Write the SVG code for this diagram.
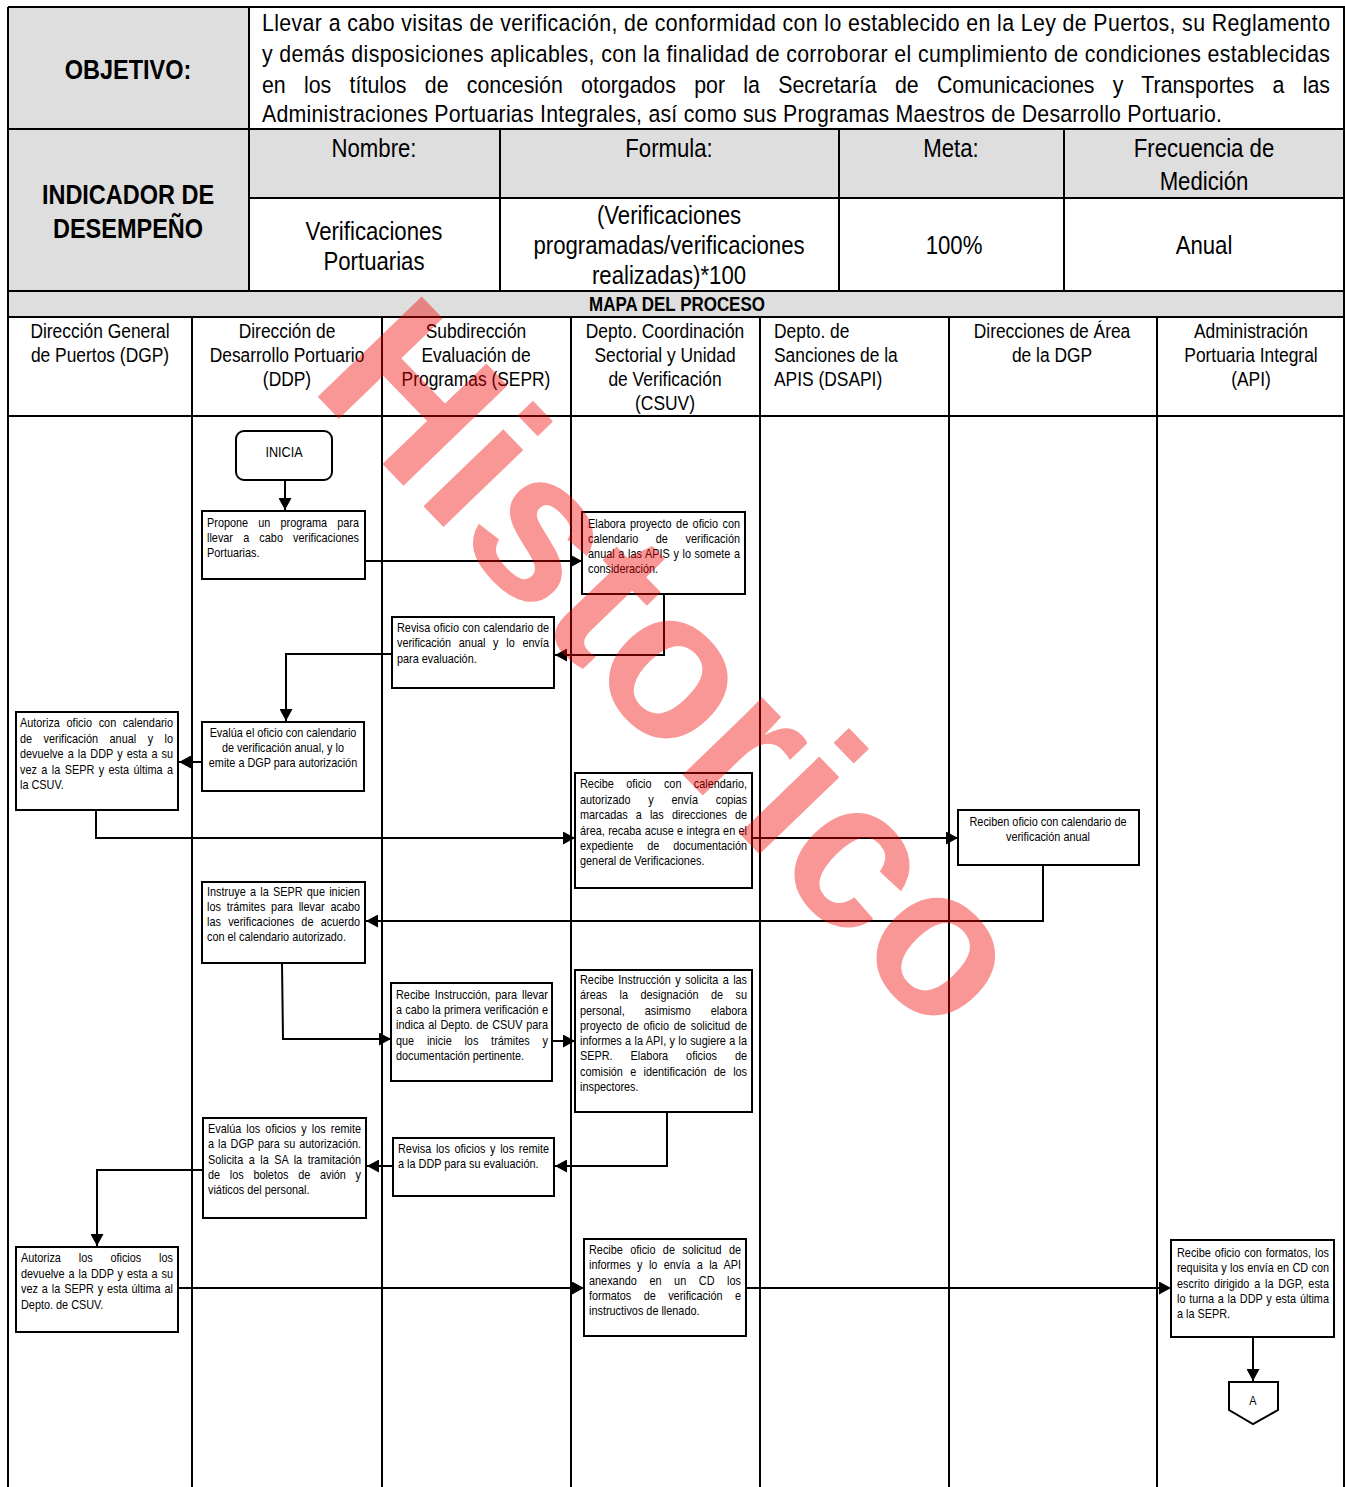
<svg xmlns="http://www.w3.org/2000/svg" width="1345" height="1487" viewBox="0 0 1345 1487">
<style>
.ln{stroke:#000;stroke-width:2;fill:none}
.gray{fill:#dedede}
.box{fill:#fff;stroke:#000;stroke-width:2}
.f{font-family:"Liberation Sans",Arial,sans-serif;fill:#000}
.t{font-family:"Liberation Sans",Arial,sans-serif;font-size:12.5px;fill:#000}
.tc{font-family:"Liberation Sans",Arial,sans-serif;font-size:12.5px;fill:#000;text-anchor:middle}
.h{font-family:"Liberation Sans",Arial,sans-serif;font-size:20px;fill:#000;text-anchor:middle}
.hl{font-family:"Liberation Sans",Arial,sans-serif;font-size:20px;fill:#000}
.v{font-family:"Liberation Sans",Arial,sans-serif;font-size:25.5px;fill:#000;text-anchor:middle}
.b{font-family:"Liberation Sans",Arial,sans-serif;font-size:27px;font-weight:bold;fill:#000;text-anchor:middle}
.o{font-family:"Liberation Sans",Arial,sans-serif;font-size:24.5px;fill:#000}
.c{stroke:#000;stroke-width:2;fill:none;marker-end:url(#ah)}
</style>
<defs>
<marker id="ah" markerUnits="userSpaceOnUse" markerWidth="13" markerHeight="13" refX="12" refY="6.5" orient="auto">
<path d="M0,0 L12,6.5 L0,13 z" fill="#000"/>
</marker>
</defs>
<rect width="1345" height="1487" fill="#fff"/>

<g id="header">
<rect class="gray" x="8" y="7" width="241" height="122"/>
<rect class="gray" x="8" y="129" width="241" height="162"/>
<rect class="gray" x="249" y="129" width="1095" height="69"/>
<rect class="gray" x="8" y="291" width="1336" height="26"/>
<path class="ln" d="M8,7 H1344 V1487 M8,7 V1487 M8,129 H1344 M249,198 H1344 M8,291 H1344 M8,317 H1344 M8,416 H1344 M249,7 V291 M500,129 V291 M839,129 V291 M1064,129 V291"/>
<text class="b" transform="translate(128,79) scale(.87,1)">OBJETIVO:</text>
<text class="o" transform="translate(262,31) scale(.87,1)" textLength="1227.6" lengthAdjust="spacing">Llevar a cabo visitas de verificación, de conformidad con lo establecido en la Ley de Puertos, su Reglamento</text>
<text class="o" transform="translate(262,62) scale(.87,1)" textLength="1227.6" lengthAdjust="spacing">y demás disposiciones aplicables, con la finalidad de corroborar el cumplimiento de condiciones establecidas</text>
<text class="o" transform="translate(262,93) scale(.87,1)" textLength="1227.6" lengthAdjust="spacing" word-spacing="14.3">en los títulos de concesión otorgados por la Secretaría de Comunicaciones y Transportes a las</text>
<text class="o" transform="translate(262,122) scale(.87,1)" textLength="1103.4" lengthAdjust="spacing">Administraciones Portuarias Integrales, así como sus Programas Maestros de Desarrollo Portuario.</text>
<text class="b" transform="translate(128,204) scale(.87,1)">INDICADOR DE</text>
<text class="b" transform="translate(128,238) scale(.87,1)">DESEMPEÑO</text>
<text class="v" transform="translate(374,157) scale(.87,1)">Nombre:</text>
<text class="v" transform="translate(669,157) scale(.87,1)">Formula:</text>
<text class="v" transform="translate(951,157) scale(.87,1)">Meta:</text>
<text class="v" transform="translate(1204,157) scale(.87,1)">Frecuencia de</text>
<text class="v" transform="translate(1204,190) scale(.87,1)">Medición</text>
<text class="v" transform="translate(374,240) scale(.87,1)">Verificaciones</text>
<text class="v" transform="translate(374,270) scale(.87,1)">Portuarias</text>
<text class="v" transform="translate(669,224) scale(.87,1)">(Verificaciones</text>
<text class="v" transform="translate(669,254) scale(.87,1)">programadas/verificaciones</text>
<text class="v" transform="translate(669,284) scale(.87,1)">realizadas)*100</text>
<text class="v" transform="translate(954,254) scale(.87,1)">100%</text>
<text class="v" transform="translate(1204,254) scale(.87,1)">Anual</text>
<text class="f" font-size="19.5" font-weight="bold" text-anchor="middle" transform="translate(677,311) scale(.87,1)">MAPA DEL PROCESO</text>
</g>

<g id="lanes">
<path class="ln" d="M192,317 V1487 M382,317 V1487 M571,317 V1487 M760,317 V1487 M949,317 V1487 M1157,317 V1487"/>
<text class="h" transform="translate(100,338) scale(.87,1)">Dirección General</text>
<text class="h" transform="translate(100,362) scale(.87,1)">de Puertos (DGP)</text>
<text class="h" transform="translate(287,338) scale(.87,1)">Dirección de</text>
<text class="h" transform="translate(287,362) scale(.87,1)">Desarrollo Portuario</text>
<text class="h" transform="translate(287,386) scale(.87,1)">(DDP)</text>
<text class="h" transform="translate(476,338) scale(.87,1)">Subdirección</text>
<text class="h" transform="translate(476,362) scale(.87,1)">Evaluación de</text>
<text class="h" transform="translate(476,386) scale(.87,1)">Programas (SEPR)</text>
<text class="h" transform="translate(665,338) scale(.87,1)">Depto. Coordinación</text>
<text class="h" transform="translate(665,362) scale(.87,1)">Sectorial y Unidad</text>
<text class="h" transform="translate(665,386) scale(.87,1)">de Verificación</text>
<text class="h" transform="translate(665,410) scale(.87,1)">(CSUV)</text>
<text class="hl" transform="translate(774,338) scale(.87,1)">Depto. de</text>
<text class="hl" transform="translate(774,362) scale(.87,1)">Sanciones de la</text>
<text class="hl" transform="translate(774,386) scale(.87,1)">APIS (DSAPI)</text>
<text class="h" transform="translate(1052,338) scale(.87,1)">Direcciones de Área</text>
<text class="h" transform="translate(1052,362) scale(.87,1)">de la DGP</text>
<text class="h" transform="translate(1251,338) scale(.87,1)">Administración</text>
<text class="h" transform="translate(1251,362) scale(.87,1)">Portuaria Integral</text>
<text class="h" transform="translate(1251,386) scale(.87,1)">(API)</text>
</g>

<g id="connectors">
<path class="c" d="M285,480 V510"/>
<path class="c" d="M365,561 H582"/>
<path class="c" d="M664,594 V655 H555"/>
<path class="c" d="M392,654 H286 V721"/>
<path class="c" d="M202,762 H179"/>
<path class="c" d="M96,810 V838 H575"/>
<path class="c" d="M752,838 H958"/>
<path class="c" d="M1043,865 V921 H366"/>
<path class="c" d="M282,963 L283,1039 H391"/>
<path class="c" d="M552,1041 H575"/>
<path class="c" d="M667,1112 V1166 H555"/>
<path class="c" d="M393,1166 H367"/>
<path class="c" d="M203,1170 H97 V1246"/>
<path class="c" d="M178,1288 H584"/>
<path class="c" d="M746,1288 H1171"/>
<path class="c" d="M1253,1337 V1381"/>
</g>

<g id="inicia">
<rect class="box" x="236" y="431" width="96" height="49" rx="8"/>
<text class="f" font-size="14.5" text-anchor="middle" transform="translate(284,457) scale(.87,1)">INICIA</text>
</g>

<g id="ddp-propone">
<rect class="box" x="202" y="511" width="163" height="68"/>
<text class="t" transform="translate(207,527) scale(.87,1)" textLength="174.7" lengthAdjust="spacing" word-spacing="8.2">Propone un programa para</text>
<text class="t" transform="translate(207,542) scale(.87,1)" textLength="174.7" lengthAdjust="spacing" word-spacing="8.2">llevar a cabo verificaciones</text>
<text class="t" transform="translate(207,557) scale(.87,1)">Portuarias.</text>
</g>

<g id="csuv-elabora">
<rect class="box" x="582" y="512" width="163" height="82"/>
<text class="t" transform="translate(588,528) scale(.87,1)" textLength="174.7" lengthAdjust="spacing" word-spacing="1.6">Elabora proyecto de oficio con</text>
<text class="t" transform="translate(588,543) scale(.87,1)" textLength="174.7" lengthAdjust="spacing" word-spacing="16.8">calendario de verificación</text>
<text class="t" transform="translate(588,558) scale(.87,1)" textLength="174.7" lengthAdjust="spacing" word-spacing="0.6">anual a las APIS y lo somete a</text>
<text class="t" transform="translate(588,573) scale(.87,1)">consideración.</text>
</g>

<g id="sepr-revisa">
<rect class="box" x="392" y="617" width="162" height="71"/>
<text class="t" transform="translate(397,632) scale(.87,1)" textLength="174.7" lengthAdjust="spacing" word-spacing="0.4">Revisa oficio con calendario de</text>
<text class="t" transform="translate(397,647) scale(.87,1)" textLength="174.7" lengthAdjust="spacing" word-spacing="5.5">verificación anual y lo envía</text>
<text class="t" transform="translate(397,663) scale(.87,1)">para evaluación.</text>
</g>

<g id="ddp-evalua">
<rect class="box" x="202" y="722" width="162" height="69"/>
<text class="tc" transform="translate(283,737) scale(.87,1)">Evalúa el oficio con calendario</text>
<text class="tc" transform="translate(283,752) scale(.87,1)">de verificación anual, y lo</text>
<text class="tc" transform="translate(283,767) scale(.87,1)">emite a DGP para autorización</text>
</g>

<g id="dgp-autoriza">
<rect class="box" x="16" y="712" width="162" height="98"/>
<text class="t" transform="translate(20,727) scale(.87,1)" textLength="175.9" lengthAdjust="spacing" word-spacing="4.2">Autoriza oficio con calendario</text>
<text class="t" transform="translate(20,743) scale(.87,1)" textLength="175.9" lengthAdjust="spacing" word-spacing="9.7">de verificación anual y lo</text>
<text class="t" transform="translate(20,758) scale(.87,1)" textLength="175.9" lengthAdjust="spacing" word-spacing="1.2">devuelve a la DDP y esta a su</text>
<text class="t" transform="translate(20,774) scale(.87,1)" textLength="175.9" lengthAdjust="spacing" word-spacing="1.6">vez a la SEPR y esta última a</text>
<text class="t" transform="translate(20,789) scale(.87,1)">la CSUV.</text>
</g>

<g id="csuv-recibe">
<rect class="box" x="575" y="773" width="177" height="115"/>
<text class="t" transform="translate(580,788) scale(.87,1)" textLength="192" lengthAdjust="spacing" word-spacing="10.7">Recibe oficio con calendario,</text>
<text class="t" transform="translate(580,804) scale(.87,1)" textLength="192" lengthAdjust="spacing" word-spacing="17">autorizado y envía copias</text>
<text class="t" transform="translate(580,819) scale(.87,1)" textLength="192" lengthAdjust="spacing" word-spacing="5.8">marcadas a las direcciones de</text>
<text class="t" transform="translate(580,835) scale(.87,1)" textLength="192" lengthAdjust="spacing" word-spacing="0.4">área, recaba acuse e integra en el</text>
<text class="t" transform="translate(580,850) scale(.87,1)" textLength="192" lengthAdjust="spacing" word-spacing="12.6">expediente de documentación</text>
<text class="t" transform="translate(580,865) scale(.87,1)">general de Verificaciones.</text>
</g>

<g id="da-reciben">
<rect class="box" x="958" y="810" width="181" height="55"/>
<text class="tc" transform="translate(1048,826) scale(.87,1)">Reciben oficio con calendario de</text>
<text class="tc" transform="translate(1048,841) scale(.87,1)">verificación anual</text>
</g>

<g id="ddp-instruye">
<rect class="box" x="202" y="882" width="163" height="81"/>
<text class="t" transform="translate(207,896) scale(.87,1)" textLength="175.9" lengthAdjust="spacing" word-spacing="1.4">Instruye a la SEPR que inicien</text>
<text class="t" transform="translate(207,911) scale(.87,1)" textLength="175.9" lengthAdjust="spacing" word-spacing="3.2">los trámites para llevar acabo</text>
<text class="t" transform="translate(207,926) scale(.87,1)" textLength="175.9" lengthAdjust="spacing" word-spacing="4.9">las verificaciones de acuerdo</text>
<text class="t" transform="translate(207,941) scale(.87,1)">con el calendario autorizado.</text>
</g>

<g id="sepr-recibe">
<rect class="box" x="391" y="983" width="161" height="98"/>
<text class="t" transform="translate(396,999) scale(.87,1)" textLength="174.7" lengthAdjust="spacing" word-spacing="2.2">Recibe Instrucción, para llevar</text>
<text class="t" transform="translate(396,1014) scale(.87,1)" textLength="174.7" lengthAdjust="spacing" word-spacing="0.3">a cabo la primera verificación e</text>
<text class="t" transform="translate(396,1029) scale(.87,1)" textLength="174.7" lengthAdjust="spacing" word-spacing="0.9">indica al Depto. de CSUV para</text>
<text class="t" transform="translate(396,1045) scale(.87,1)" textLength="174.7" lengthAdjust="spacing" word-spacing="11.2">que inicie los trámites y</text>
<text class="t" transform="translate(396,1060) scale(.87,1)">documentación pertinente.</text>
</g>

<g id="csuv-solicita">
<rect class="box" x="575" y="970" width="177" height="142"/>
<text class="t" transform="translate(580,984) scale(.87,1)" textLength="192" lengthAdjust="spacing" word-spacing="1.6">Recibe Instrucción y solicita a las</text>
<text class="t" transform="translate(580,999) scale(.87,1)" textLength="192" lengthAdjust="spacing" word-spacing="10.8">áreas la designación de su</text>
<text class="t" transform="translate(580,1015) scale(.87,1)" textLength="192" lengthAdjust="spacing" word-spacing="19.6">personal, asimismo elabora</text>
<text class="t" transform="translate(580,1030) scale(.87,1)" textLength="192" lengthAdjust="spacing" word-spacing="2.1">proyecto de oficio de solicitud de</text>
<text class="t" transform="translate(580,1045) scale(.87,1)" textLength="192" lengthAdjust="spacing" word-spacing="0.3">informes a la API, y lo sugiere a la</text>
<text class="t" transform="translate(580,1060) scale(.87,1)" textLength="192" lengthAdjust="spacing" word-spacing="17.2">SEPR. Elabora oficios de</text>
<text class="t" transform="translate(580,1076) scale(.87,1)" textLength="192" lengthAdjust="spacing" word-spacing="4.9">comisión e identificación de los</text>
<text class="t" transform="translate(580,1091) scale(.87,1)">inspectores.</text>
</g>

<g id="sepr-revisa-oficios">
<rect class="box" x="393" y="1138" width="161" height="58"/>
<text class="t" transform="translate(398,1153) scale(.87,1)" textLength="173.6" lengthAdjust="spacing" word-spacing="1.9">Revisa los oficios y los remite</text>
<text class="t" transform="translate(398,1168) scale(.87,1)">a la DDP para su evaluación.</text>
</g>

<g id="ddp-evalua-oficios">
<rect class="box" x="203" y="1118" width="163" height="100"/>
<text class="t" transform="translate(208,1133) scale(.87,1)" textLength="175.9" lengthAdjust="spacing" word-spacing="2.4">Evalúa los oficios y los remite</text>
<text class="t" transform="translate(208,1148) scale(.87,1)" textLength="175.9" lengthAdjust="spacing" word-spacing="1.1">a la DGP para su autorización.</text>
<text class="t" transform="translate(208,1164) scale(.87,1)" textLength="175.9" lengthAdjust="spacing" word-spacing="2.8">Solicita a la SA la tramitación</text>
<text class="t" transform="translate(208,1179) scale(.87,1)" textLength="175.9" lengthAdjust="spacing" word-spacing="7.7">de los boletos de avión y</text>
<text class="t" transform="translate(208,1194) scale(.87,1)">viáticos del personal.</text>
</g>

<g id="dgp-autoriza-oficios">
<rect class="box" x="16" y="1247" width="162" height="85"/>
<text class="t" transform="translate(21,1262) scale(.87,1)" textLength="174.7" lengthAdjust="spacing" word-spacing="17">Autoriza los oficios los</text>
<text class="t" transform="translate(21,1278) scale(.87,1)" textLength="174.7" lengthAdjust="spacing" word-spacing="1">devuelve a la DDP y esta a su</text>
<text class="t" transform="translate(21,1293) scale(.87,1)" textLength="174.7" lengthAdjust="spacing" word-spacing="1">vez a la SEPR y esta última al</text>
<text class="t" transform="translate(21,1309) scale(.87,1)">Depto. de CSUV.</text>
</g>

<g id="csuv-envia">
<rect class="box" x="584" y="1239" width="162" height="97"/>
<text class="t" transform="translate(589,1254) scale(.87,1)" textLength="174.7" lengthAdjust="spacing" word-spacing="4.9">Recibe oficio de solicitud de</text>
<text class="t" transform="translate(589,1269) scale(.87,1)" textLength="174.7" lengthAdjust="spacing" word-spacing="3.9">informes y lo envía a la API</text>
<text class="t" transform="translate(589,1285) scale(.87,1)" textLength="174.7" lengthAdjust="spacing" word-spacing="11">anexando en un CD los</text>
<text class="t" transform="translate(589,1300) scale(.87,1)" textLength="174.7" lengthAdjust="spacing" word-spacing="10.8">formatos de verificación e</text>
<text class="t" transform="translate(589,1315) scale(.87,1)">instructivos de llenado.</text>
</g>

<g id="api-recibe">
<rect class="box" x="1171" y="1240" width="163" height="97"/>
<text class="t" transform="translate(1177,1257) scale(.87,1)" textLength="174.7" lengthAdjust="spacing" word-spacing="1.1">Recibe oficio con formatos, los</text>
<text class="t" transform="translate(1177,1272) scale(.87,1)" textLength="174.7" lengthAdjust="spacing" word-spacing="0.4">requisita y los envía en CD con</text>
<text class="t" transform="translate(1177,1288) scale(.87,1)" textLength="174.7" lengthAdjust="spacing" word-spacing="1.9">escrito dirigido a la DGP, esta</text>
<text class="t" transform="translate(1177,1303) scale(.87,1)" textLength="174.7" lengthAdjust="spacing" word-spacing="0.8">lo turna a la DDP y esta última</text>
<text class="t" transform="translate(1177,1318) scale(.87,1)">a la SEPR.</text>
</g>

<g id="conector-a">
<polygon class="box" points="1229,1382 1278,1382 1278,1410 1253,1424 1229,1410"/>
<text class="tc" transform="translate(1253,1405) scale(.87,1)">A</text>
</g>

<g id="watermark">
<text font-family="Liberation Sans, Arial, sans-serif" font-size="210" font-weight="bold" fill="#f00000" fill-opacity="0.41" text-anchor="middle" transform="translate(624,714) rotate(46)">Historico</text>
</g>
</svg>
